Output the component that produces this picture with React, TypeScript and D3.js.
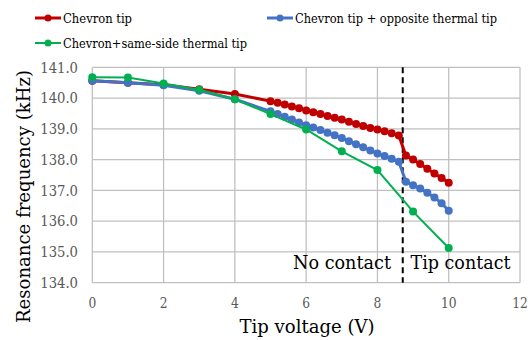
import React from "react";
import * as d3 from "d3";

const redX = [0, 1, 2, 3, 4, 5, 5.2, 5.4, 5.6, 5.8, 6, 6.2, 6.4, 6.6, 6.8, 7, 7.2, 7.4, 7.6, 7.8, 8, 8.2, 8.4, 8.6, 8.8, 9, 9.2, 9.4, 9.6, 9.8, 10];
const redY = [140.56, 140.5, 140.43, 140.29, 140.13, 139.9, 139.85, 139.79, 139.73, 139.67, 139.6, 139.54, 139.48, 139.42, 139.36, 139.3, 139.23, 139.16, 139.09, 139.03, 138.98, 138.92, 138.86, 138.78, 138.13, 138.0, 137.86, 137.7, 137.55, 137.4, 137.25];
const blueX = redX;
const blueY = [140.56, 140.5, 140.42, 140.24, 139.96, 139.57, 139.48, 139.39, 139.3, 139.21, 139.12, 139.04, 138.96, 138.87, 138.79, 138.7, 138.6, 138.5, 138.4, 138.3, 138.2, 138.12, 138.03, 137.93, 137.28, 137.17, 137.06, 136.92, 136.77, 136.58, 136.34];
const greenX = [0, 1, 2, 3, 4, 5, 6, 7, 8, 9, 10];
const greenY = [140.68, 140.67, 140.47, 140.27, 139.96, 139.48, 138.98, 138.27, 137.66, 136.31, 135.13];
const xTicks = [0, 2, 4, 6, 8, 10, 12];
const yTicks = [134, 135, 136, 137, 138, 139, 140, 141];
const contactV = 8.71;

const seriesList = [
  { name: "Chevron tip", xs: redX, ys: redY, color: "#C00000", width: 3, tl: 69 },
  { name: "Chevron tip + opposite thermal tip", xs: blueX, ys: blueY, color: "#4472C4", width: 3, tl: 202 },
  { name: "Chevron+same-side thermal tip", xs: greenX, ys: greenY, color: "#00B050", width: 2, tl: 184 },
];

const FONT = "'DejaVu Serif', serif";

export default function App() {
  const x = d3.scaleLinear().domain([0, 12]).range([92.3, 520]);
  const y = d3.scaleLinear().domain([134, 141]).range([282.7, 67.3]);
  const line = d3.line<[number, number]>().x((d) => x(d[0])).y((d) => y(d[1]));
  const grid = "#c0c0c0";
  const ts = { fontFamily: FONT };
  const legendPos = [
    { lx: 35, ly: 18 },
    { lx: 267, ly: 18 },
    { lx: 35, ly: 43 },
  ];
  return (
    <svg width={531} height={340} style={{ position: "absolute", left: 0, top: 0, background: "#fff", fontFamily: FONT }}>
      {yTicks.map((t) => (
        <line key={"gy" + t} x1={x(0)} x2={x(12)} y1={y(t)} y2={y(t)} stroke={grid} strokeWidth={1.3} />
      ))}
      {xTicks.map((t) => (
        <line key={"gx" + t} x1={x(t)} x2={x(t)} y1={y(134)} y2={y(141)} stroke={grid} strokeWidth={1.3} />
      ))}
      {yTicks.map((t) => (
        <text key={"ty" + t} x={78} y={y(t) + 5.3} textAnchor="end" fontSize={14.5} fill="#595959" style={ts}
          textLength={37.7} lengthAdjust="spacingAndGlyphs">
          {t.toFixed(1)}
        </text>
      ))}
      {xTicks.map((t) => (
        <text key={"tx" + t} x={x(t)} y={308} textAnchor="middle" fontSize={14.5} fill="#595959" style={ts}
          textLength={String(t).length * 7.8} lengthAdjust="spacingAndGlyphs">
          {t}
        </text>
      ))}
      <line x1={x(contactV)} x2={x(contactV)} y1={y(141)} y2={y(134)} stroke="#000" strokeWidth={2} strokeDasharray="6,4" />
      {seriesList.map((s) => {
        const pts = s.xs.map((v, i) => [v, s.ys[i]] as [number, number]);
        return (
          <g key={s.name}>
            <path d={line(pts) || ""} fill="none" stroke={s.color} strokeWidth={s.width} />
            {pts.map((p, i) => (
              <circle key={i} cx={x(p[0])} cy={y(p[1])} r={4} fill={s.color} />
            ))}
          </g>
        );
      })}
      <text x={391} y={269} textAnchor="end" fontSize={18.2} style={ts} textLength={98} lengthAdjust="spacingAndGlyphs">No contact</text>
      <text x={410.5} y={269} textAnchor="start" fontSize={18.2} style={ts} textLength={100} lengthAdjust="spacingAndGlyphs">Tip contact</text>
      <text x={307} y={333} textAnchor="middle" fontSize={19} style={ts} textLength={135} lengthAdjust="spacingAndGlyphs">Tip voltage (V)</text>
      <text transform="translate(30,196.5) rotate(-90)" textAnchor="middle" fontSize={19} style={ts} textLength={253} lengthAdjust="spacingAndGlyphs">Resonance frequency (kHz)</text>
      {seriesList.map((s, i) => {
        const p = legendPos[i];
        return (
          <g key={"lg" + i}>
            <line x1={p.lx} x2={p.lx + 26} y1={p.ly} y2={p.ly} stroke={s.color} strokeWidth={s.width} />
            <circle cx={p.lx + 13} cy={p.ly} r={3.5} fill={s.color} />
            <text x={p.lx + 28} y={p.ly + 5} fontSize={13.6} style={ts} textLength={s.tl} lengthAdjust="spacingAndGlyphs">{s.name}</text>
          </g>
        );
      })}
    </svg>
  );
}
